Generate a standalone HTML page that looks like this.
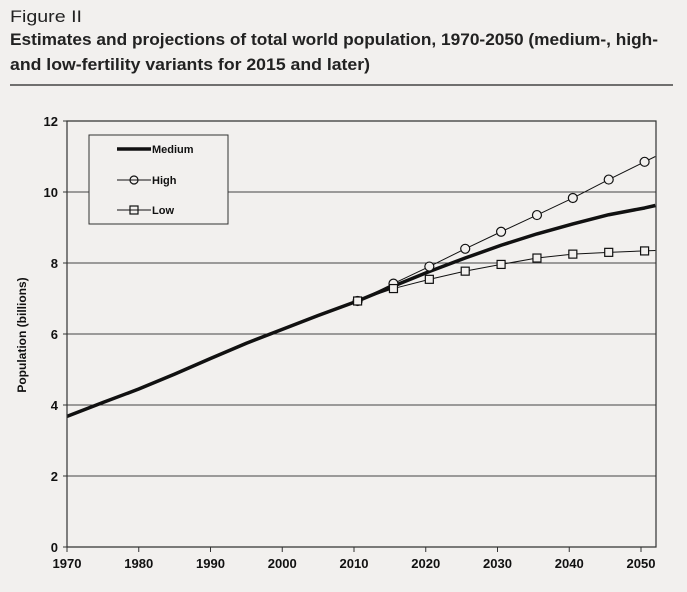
<!DOCTYPE html>
<html><head><meta charset="utf-8"><style>
body{margin:0;background:#f2f0ee;}
svg{display:block;font-family:"Liberation Sans",sans-serif;}
</style></head><body>
<svg id="c" width="687" height="592" viewBox="0 0 687 592">
<text x="10" y="22" font-size="17" fill="#222" textLength="72" lengthAdjust="spacingAndGlyphs">Figure II</text>
<text x="10" y="45" font-size="17" font-weight="bold" fill="#222" textLength="648" lengthAdjust="spacingAndGlyphs">Estimates and projections of total world population, 1970-2050 (medium-, high-</text>
<text x="10" y="70" font-size="17" font-weight="bold" fill="#222" textLength="360" lengthAdjust="spacingAndGlyphs">and low-fertility variants for 2015 and later)</text>
<line x1="10" y1="85" x2="673" y2="85" stroke="#222" stroke-width="1.3"/>
<text transform="translate(26,335) rotate(-90)" text-anchor="middle" font-size="12" font-weight="bold" fill="#111">Population (billions)</text>
<g id="grid"></g><g id="series"></g><g id="axes"></g>
<g>
<rect x="89" y="135" width="139" height="89" fill="#f2f0ee" stroke="#333" stroke-width="1"/>
<g><line x1="117" y1="149" x2="151" y2="149" stroke="#111" stroke-width="3.5"/><text x="152" y="153" font-size="11" font-weight="bold" fill="#111">Medium</text></g>
<g><line x1="117" y1="180" x2="151" y2="180" stroke="#111" stroke-width="1"/><circle cx="134" cy="180" r="4" fill="none" stroke="#111" stroke-width="1.2"/><text x="152" y="184" font-size="11" font-weight="bold" fill="#111">High</text></g>
<g><line x1="117" y1="210" x2="151" y2="210" stroke="#111" stroke-width="1"/><rect x="130" y="206" width="8" height="8" fill="none" stroke="#111" stroke-width="1.2"/><text x="152" y="214" font-size="11" font-weight="bold" fill="#111">Low</text></g>
</g>
</svg>
<script>
const medYears=[1970,1975,1980,1985,1990,1995,2000,2005,2010.5,2015.5,2020.5,2025.5,2030.5,2035.5,2040.5,2045.5,2050.5,2052];
const medVals=[3.68,4.07,4.45,4.87,5.31,5.74,6.13,6.52,6.93,7.35,7.76,8.14,8.5,8.82,9.1,9.36,9.55,9.62];
const projYears=[2010.5,2015.5,2020.5,2025.5,2030.5,2035.5,2040.5,2045.5,2050.5];
const highVals=[6.93,7.42,7.9,8.4,8.88,9.35,9.83,10.35,10.85];
const lowVals=[6.93,7.28,7.54,7.77,7.96,8.14,8.25,8.3,8.34];
const yTicks=[0,2,4,6,8,10,12];
const xTicks=[1970,1980,1990,2000,2010,2020,2030,2040,2050];
const NS="http://www.w3.org/2000/svg";
const X0=67,X1=656,YB=547,YT=121;
function xs(v){return X0+(v-1970)*(641-67)/80;}
function ys(v){return YB-(v/12)*(YB-YT);}
function mk(t,a,p){const e=document.createElementNS(NS,t);for(const k in a)e.setAttribute(k,a[k]);p.appendChild(e);return e;}
const grid=document.getElementById('grid'),ser=document.getElementById('series'),ax=document.getElementById('axes');
yTicks.forEach(v=>{
 if(v>0){const l=mk('line',{x1:X0,x2:X1,y1:ys(v),y2:ys(v),stroke:'#444','stroke-width':1},grid);
 
 }
 const t=mk('text',{x:X0-9,y:ys(v)+5,'text-anchor':'end','font-size':13,'font-weight':'bold',fill:'#111'},ax);t.textContent=v;
 
 
 mk('line',{x1:X0-4,x2:X0,y1:ys(v),y2:ys(v),stroke:'#333'},ax);
});
xTicks.forEach(v=>{
 mk('line',{x1:xs(v),x2:xs(v),y1:YB,y2:YB+5,stroke:'#333'},ax);
 const t=mk('text',{x:xs(v),y:YB+21,'text-anchor':'middle','font-size':13,'font-weight':'bold',fill:'#111',textLength:29,lengthAdjust:'spacingAndGlyphs'},ax);t.textContent=v;
 
 
});
const fr=mk('path',{d:`M${X0},${YT}V${YB}H${X1}V${YT}Z`,fill:'none',stroke:'#333','stroke-width':1.2},ax);


function line(ys_,vs,w,name,ext){
 let pts=ys_.map((y,i)=>xs(y)+','+ys(vs[i]));
 if(ext){pts.push(xs(ext[0])+','+ys(ext[1]));}
 const p=mk('polyline',{points:pts.join(' '),fill:'none',stroke:'#111','stroke-width':w,'stroke-linejoin':'round'},ser);
 
 
}
const n=projYears.length;
line(projYears,highVals,1,'high-line',[2052,highVals[n-1]+(highVals[n-1]-highVals[n-2])*0.3]);
line(projYears,lowVals,1,'low-line',[2052,lowVals[n-1]+(lowVals[n-1]-lowVals[n-2])*0.3]);
line(medYears,medVals,3.5,'medium-line');
projYears.forEach((y,i)=>{
 const c=mk('circle',{cx:xs(y),cy:ys(highVals[i]),r:4.5,fill:'#f2f0ee',stroke:'#111','stroke-width':1.2},ser);
 
 
 const r=mk('rect',{x:xs(y)-4,y:ys(lowVals[i])-4,width:8,height:8,fill:'#f2f0ee',stroke:'#111','stroke-width':1.2},ser);
 
 
});
</script>
</body></html>
